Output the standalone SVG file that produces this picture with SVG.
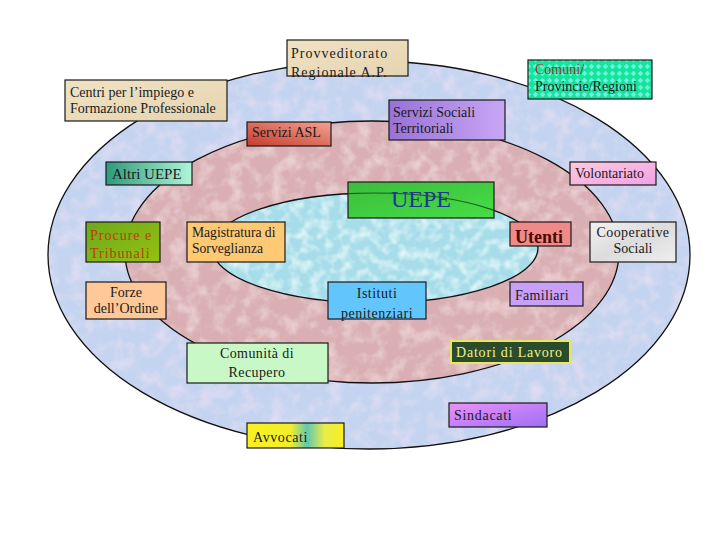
<svg xmlns="http://www.w3.org/2000/svg" width="720" height="540" viewBox="0 0 720 540">
<defs>
<style>
text{font-family:"Liberation Serif","Times New Roman",serif;font-size:14px;fill:#1a1a1a}
.box{stroke:#1a1a1a;stroke-width:1.2}
.ring{fill:none;stroke:#111;stroke-width:1.3}
.c{text-anchor:middle}
</style>
<filter id="mBlue" x="0" y="0" width="1" height="1">
<feTurbulence type="fractalNoise" baseFrequency="0.07" numOctaves="3" seed="4"/>
<feColorMatrix type="matrix" values="0 0 0 0 0.88  0 0 0 0 0.76  0 0 0 0 0.9  1.3 0 0 0 -0.55"/>
<feComposite in2="SourceGraphic" operator="in" result="s"/>
<feMerge><feMergeNode in="SourceGraphic"/><feMergeNode in="s"/></feMerge>
</filter>
<filter id="mPink" x="0" y="0" width="1" height="1">
<feTurbulence type="fractalNoise" baseFrequency="0.07" numOctaves="3" seed="9"/>
<feColorMatrix type="matrix" values="0 0 0 0 0.94  0 0 0 0 0.8  0 0 0 0 0.8  1.3 0 0 0 -0.55"/>
<feComposite in2="SourceGraphic" operator="in" result="s"/>
<feMerge><feMergeNode in="SourceGraphic"/><feMergeNode in="s"/></feMerge>
</filter>
<filter id="mAqua" x="0" y="0" width="1" height="1">
<feTurbulence type="fractalNoise" baseFrequency="0.1" numOctaves="2" seed="5"/>
<feColorMatrix type="matrix" values="0 0 0 0 0.9  0 0 0 0 1  0 0 0 0 1  1.6 0 0 0 -0.65"/>
<feComposite in2="SourceGraphic" operator="in" result="s"/>
<feMerge><feMergeNode in="SourceGraphic"/><feMergeNode in="s"/></feMerge>
</filter>
<linearGradient id="gTan" x1="0" y1="0" x2="1" y2="1"><stop offset="0" stop-color="#efe2c4"/><stop offset="1" stop-color="#e6d4b0"/></linearGradient>
<linearGradient id="gAsl" x1="0" y1="1" x2="1" y2="0"><stop offset="0" stop-color="#c83a2c"/><stop offset="1" stop-color="#f2a290"/></linearGradient>
<linearGradient id="gSoc" x1="0" y1="0" x2="1" y2="0"><stop offset="0" stop-color="#9872d6"/><stop offset="1" stop-color="#c8a6f6"/></linearGradient>
<linearGradient id="gVol" x1="0" y1="0" x2="1" y2="1"><stop offset="0" stop-color="#ffcade"/><stop offset="1" stop-color="#f0a2e6"/></linearGradient>
<linearGradient id="gAltri" x1="0" y1="0" x2="1" y2="0"><stop offset="0" stop-color="#2f9a7a"/><stop offset="1" stop-color="#b0f4da"/></linearGradient>
<linearGradient id="gUepe" x1="0" y1="0" x2="1" y2="1"><stop offset="0" stop-color="#3cbc3c"/><stop offset="1" stop-color="#46de46"/></linearGradient>
<linearGradient id="gProc" x1="0" y1="0" x2="1" y2="1"><stop offset="0" stop-color="#6ea81c"/><stop offset="1" stop-color="#94c210"/></linearGradient>
<linearGradient id="gSind" x1="0" y1="0" x2="1" y2="1"><stop offset="0" stop-color="#ee92f8"/><stop offset="1" stop-color="#9c6ef6"/></linearGradient>
<linearGradient id="gAvv" x1="0" y1="0" x2="1" y2="0"><stop offset="0" stop-color="#f8f020"/><stop offset="0.45" stop-color="#f2ee2c"/><stop offset="0.62" stop-color="#62c8b0"/><stop offset="0.8" stop-color="#e8ec48"/><stop offset="1" stop-color="#f8f020"/></linearGradient>
<linearGradient id="gCoop" x1="0" y1="0" x2="1" y2="1"><stop offset="0" stop-color="#f2f2f2"/><stop offset="0.5" stop-color="#dcdcdc"/><stop offset="1" stop-color="#eeeeee"/></linearGradient>
<pattern id="pDiam" width="7" height="7" patternUnits="userSpaceOnUse">
<rect width="7" height="7" fill="#14e49c"/>
<path d="M3.5 0.8 L6.2 3.5 L3.5 6.2 L0.8 3.5Z" fill="#6ef2dc"/>
</pattern>
<clipPath id="clipUepe"><rect x="348" y="182" width="146" height="36"/></clipPath>
</defs>

<g id="rings">
<ellipse cx="369" cy="255" rx="321" ry="194" fill="#c4d4f0" filter="url(#mBlue)"/>
<ellipse cx="372" cy="252" rx="247" ry="131" fill="#d9afb3" filter="url(#mPink)"/>
<ellipse cx="375" cy="248" rx="163" ry="55" fill="#a6dde9" filter="url(#mAqua)"/>
<ellipse class="ring" cx="369" cy="255" rx="321" ry="194"/>
<ellipse class="ring" cx="372" cy="252" rx="247" ry="131"/>
<ellipse class="ring" cx="375" cy="248" rx="163" ry="55"/>
</g>

<g id="connectors"></g>

<g id="uepe">
<rect class="box" x="348" y="182" width="146" height="36" fill="url(#gUepe)"/>
<ellipse cx="375" cy="248" rx="163" ry="55" fill="none" stroke="#1e5a1e" stroke-width="1.2" clip-path="url(#clipUepe)"/>
<text x="421" y="207" class="c" style="font-size:24px;fill:#1c3a8c">UEPE</text>
</g>

<g id="provveditorato">
<rect class="box" x="287" y="40" width="121" height="36" fill="url(#gTan)"/>
<text x="291" y="58" style="letter-spacing:1px">Provveditorato</text>
<text x="291" y="76.5" style="letter-spacing:1px">Regionale A.P.</text>
</g>

<g id="centri">
<rect class="box" x="65" y="80" width="162" height="41" fill="url(#gTan)"/>
<text x="70" y="97">Centri per l’impiego e</text>
<text x="70" y="113">Formazione Professionale</text>
</g>

<g id="asl">
<rect class="box" x="247" y="122" width="84" height="24" fill="url(#gAsl)"/>
<text x="252" y="137">Servizi ASL</text>
</g>

<g id="comuni">
<rect class="box" x="528" y="60" width="124" height="39" fill="url(#pDiam)"/>
<text x="535" y="74"><tspan fill="#9a3a2a">Comuni</tspan>/</text>
<text x="535" y="91">Provincie/Regioni</text>
</g>

<g id="sociali">
<rect class="box" x="389" y="100" width="116" height="40" fill="url(#gSoc)"/>
<text x="393" y="117">Servizi Sociali</text>
<text x="393" y="133">Territoriali</text>
</g>

<g id="volontariato">
<rect class="box" x="570" y="162" width="86" height="23" fill="url(#gVol)"/>
<text x="575" y="178">Volontariato</text>
</g>

<g id="altri">
<rect class="box" x="106" y="162" width="86" height="23" fill="url(#gAltri)"/>
<text x="112" y="179" style="font-size:15px">Altri UEPE</text>
</g>

<g id="procure">
<rect class="box" x="86" y="222" width="74" height="40" fill="url(#gProc)"/>
<text x="90" y="240" style="letter-spacing:1px;fill:#b8400c">Procure e</text>
<text x="90" y="258" style="letter-spacing:1px;fill:#b8400c">Tribunali</text>
</g>

<g id="magistratura">
<rect class="box" x="187" y="222" width="98" height="40" fill="#ffc872"/>
<text x="192" y="237" style="font-size:13.6px">Magistratura di</text>
<text x="192" y="253" style="font-size:13.6px">Sorveglianza</text>
</g>

<g id="forze">
<rect class="box" x="86" y="282" width="80" height="37" fill="#ffc898"/>
<text x="126" y="297" class="c">Forze</text>
<text x="126" y="313" class="c">dell’Ordine</text>
</g>

<g id="istituti">
<rect class="box" x="328" y="282" width="98" height="37" fill="#62c6fc"/>
<text x="377" y="298" class="c" style="letter-spacing:0.5px">Istituti</text>
<text x="377" y="318" class="c" style="letter-spacing:0.5px">penitenziari</text>
</g>

<g id="utenti">
<rect class="box" x="510" y="222" width="61" height="24" fill="#f08a88"/>
<text x="515" y="243" style="font-size:18px;font-weight:bold;fill:#4a0808">Utenti</text>
</g>

<g id="cooperative">
<rect class="box" x="590" y="222" width="86" height="40" fill="url(#gCoop)"/>
<text x="633" y="237" class="c" style="letter-spacing:0.4px">Cooperative</text>
<text x="633" y="253" class="c">Sociali</text>
</g>

<g id="familiari">
<rect class="box" x="510" y="282" width="73" height="24" fill="#c8a0f8"/>
<text x="515" y="300" style="letter-spacing:0.3px">Familiari</text>
</g>

<g id="comunita">
<rect class="box" x="187" y="343" width="141" height="40" fill="#c8f8c6"/>
<text x="257" y="358" class="c" style="letter-spacing:0.4px">Comunità di</text>
<text x="257" y="377" class="c" style="letter-spacing:0.4px">Recupero</text>
</g>

<g id="datori">
<rect x="451" y="341" width="119" height="22" fill="#2c4a2c" stroke="#e8e860" stroke-width="2"/>
<text x="456" y="357" style="letter-spacing:0.8px;fill:#eef28a">Datori di Lavoro</text>
</g>

<g id="sindacati">
<rect class="box" x="449" y="403" width="98" height="24" fill="url(#gSind)"/>
<text x="454" y="420" style="letter-spacing:0.7px">Sindacati</text>
</g>

<g id="avvocati">
<rect class="box" x="247" y="423" width="97" height="25" fill="url(#gAvv)"/>
<text x="253" y="442" style="letter-spacing:0.6px">Avvocati</text>
</g>
</svg>
